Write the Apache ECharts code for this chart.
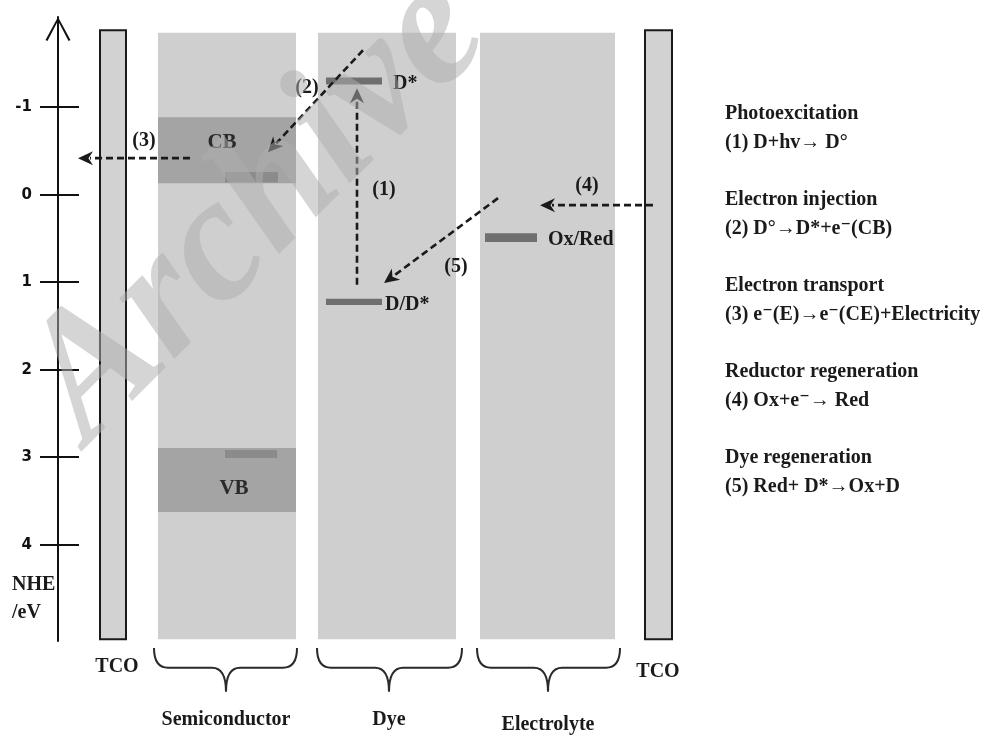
<!DOCTYPE html>
<html>
<head>
<meta charset="utf-8">
<script src="https://cdn.jsdelivr.net/npm/echarts@6/dist/echarts.min.js"></script>
<style>
  html, body { margin: 0; padding: 0; background: #fff; }
  #chart { width: 1001px; height: 735px; }
</style>
</head>
<body>
<div id="chart"></div>
<script>
// energy axis (NHE / eV), drawn top = negative
const tickValues = [-1, 0, 1, 2, 3, 4]

// cell layers: x in position units from the energy axis
const layerNames = ['TCO', 'Semiconductor', 'Dye', 'Electrolyte', 'TCO']
const layerX0 = [42, 100, 260, 422, 587]
const layerX1 = [68, 238, 398, 557, 614]
const layerTop = [-1.88, -1.85, -1.85, -1.85, -1.88]
const layerBottom = [5.08, 5.08, 5.08, 5.08, 5.08]

// semiconductor bands
const bandNames = ['CB', 'VB']
const bandTop = [-0.885, 2.894]
const bandBottom = [-0.13, 3.625]
const bandCenterX = [164, 176]
const bandLabelY = [-0.59, 3.36]

// energy levels (thin bars)
const levelNames = ['', '', 'D*', 'D/D*', 'Ox/Red']
const levelX0 = [167, 167, 268, 268, 427]
const levelX1 = [220, 219, 324, 324, 479]
const levelTop = [-0.26, 2.917, -1.34, 1.19, 0.44]
const levelBottom = [-0.14, 3.008, -1.26, 1.26, 0.54]

// electron transfer steps
const stepNames = ['(1)', '(2)', '(3)', '(4)', '(5)']
const stepFromX = [299, 305, 132, 595, 440]
const stepFromY = [1.03, -1.65, -0.417, 0.12, 0.04]
const stepToX = [299, 210, 20, 482, 326]
const stepToY = [-1.215, -0.485, -0.417, 0.12, 1.01]
const stepLabelX = [326, 249, 86, 529, 398]
const stepLabelY = [-0.05, -1.215, -0.62, -0.1, 0.82]

// braces under the layers
const braceNames = ['Semiconductor', 'Dye', 'Electrolyte']
const braceX0 = [96, 259, 419]
const braceX1 = [239, 404, 562]
const braceTip = [168, 331, 490]

const noteTitles = ['Photoexcitation', 'Electron injection', 'Electron transport', 'Reductor regeneration', 'Dye regeneration']
const noteEquations = [
  '(1) D+hv\u2192 D\u00b0',
  '(2) D\u00b0\u2192D*+e\u207b(CB)',
  '(3) e\u207b(E)\u2192e\u207b(CE)+Electricity',
  '(4) Ox+e\u207b\u2192 Red',
  '(5) Red+ D*\u2192Ox+D'
]

const serif = '"Liberation Serif", "DejaVu Serif", serif'
const chart = echarts.init(document.getElementById('chart'))

function rectSeries(x0, x1, y0, y1, style, z) {
  return {
    type: 'custom',
    z: z,
    data: x0.map((x, i) => [x, x1[i], y0[i], y1[i]]),
    renderItem: (params, api) => {
      const a = api.coord([api.value(0), api.value(2)])
      const b = api.coord([api.value(1), api.value(3)])
      return {
        type: 'rect',
        shape: { x: a[0], y: a[1], width: b[0] - a[0], height: b[1] - a[1] },
        style: style
      }
    }
  }
}

function textSeries(xs, ys, texts, style, z) {
  return {
    type: 'custom',
    z: z,
    data: xs.map((x, i) => [x, ys[i]]),
    renderItem: (params, api) => {
      const p = api.coord([api.value(0), api.value(1)])
      return {
        type: 'text',
        x: p[0],
        y: p[1],
        style: Object.assign({ text: texts[params.dataIndex] }, style)
      }
    }
  }
}

// labels gathered from the arrays above
const levelLabelIdx = [2, 3, 4]
const levelLabelGap = [11, 3, 11]
const bottomLabelX = [59, ...braceTip, 600]
const bottomLabelY = [5.40, 6.0, 6.0, 6.06, 5.45]
const bottomLabelText = [layerNames[0], ...braceNames, layerNames[4]]

const labelFont = 'bold 20px ' + serif

const options = {
  animation: false,
  grid: { left: 58, right: 0, top: 17, bottom: 94 },
  xAxis: { type: 'value', min: 0, max: 943, show: false },
  yAxis: [
    {
      type: 'value',
      inverse: true,
      min: -2.03,
      max: 5.1,
      position: 'left',
      splitLine: { show: false },
      axisLine: {
        show: true,
        lineStyle: { color: '#111', width: 2 },
        symbol: ['none', 'path://M0,24 L13,0 L26,24 L24,25 L13,4 L2,25 Z'],
        symbolSize: [27, 24],
        symbolOffset: [0, -12]
      },
      axisTick: { show: true, length: 18, customValues: tickValues, lineStyle: { color: '#111', width: 2 } },
      axisLabel: {
        customValues: tickValues,
        margin: 26,
        color: '#111',
        fontWeight: 'bold',
        fontSize: 15,
        fontFamily: '"DejaVu Sans", sans-serif'
      }
    },
    {
      type: 'value',
      inverse: true,
      min: -2.03,
      max: 5.1,
      position: 'left',
      offset: 0,
      splitLine: { show: false },
      axisLine: { show: false },
      axisLabel: { show: false },
      axisTick: { show: true, inside: true, length: 21, customValues: tickValues, lineStyle: { color: '#111', width: 2 } }
    }
  ],
  series: [
    rectSeries(layerX0.slice(1, 4), layerX1.slice(1, 4), layerTop.slice(1, 4), layerBottom.slice(1, 4),
      { fill: '#cfcfcf' }, 1),
    rectSeries([layerX0[0], layerX0[4]], [layerX1[0], layerX1[4]], [layerTop[0], layerTop[4]], [layerBottom[0], layerBottom[4]],
      { fill: '#d2d2d2', stroke: '#1a1a1a', lineWidth: 2 }, 1),
    rectSeries([layerX0[1], layerX0[1]], [layerX1[1], layerX1[1]], bandTop, bandBottom, { fill: '#a4a4a4' }, 2),
    rectSeries(levelX0.slice(0, 2), levelX1.slice(0, 2), levelTop.slice(0, 2), levelBottom.slice(0, 2), { fill: '#8b8b8b' }, 3),
    rectSeries(levelX0.slice(2), levelX1.slice(2), levelTop.slice(2), levelBottom.slice(2), { fill: '#6f6f6f' }, 3),
    // arrows
    {
      type: 'custom',
      z: 5,
      data: stepFromX.map((x, i) => [x, stepFromY[i], stepToX[i], stepToY[i]]),
      renderItem: (params, api) => {
        const a = api.coord([api.value(0), api.value(1)])
        const b = api.coord([api.value(2), api.value(3)])
        const dx = b[0] - a[0]
        const dy = b[1] - a[1]
        const len = Math.sqrt(dx * dx + dy * dy)
        const ux = dx / len
        const uy = dy / len
        const hl = 15
        const hw = 7
        const base = [b[0] - ux * hl, b[1] - uy * hl]
        return {
          type: 'group',
          children: [
            {
              type: 'line',
              shape: { x1: a[0], y1: a[1], x2: base[0] + ux * 3, y2: base[1] + uy * 3 },
              style: { stroke: '#1a1a1a', lineWidth: 2.6, lineDash: [7, 4] }
            },
            {
              type: 'polygon',
              shape: {
                points: [
                  b,
                  [base[0] - uy * hw, base[1] + ux * hw],
                  [b[0] - ux * hl * 0.7, b[1] - uy * hl * 0.7],
                  [base[0] + uy * hw, base[1] - ux * hw]
                ]
              },
              style: { fill: '#1a1a1a' }
            }
          ]
        }
      }
    },
    // braces
    {
      type: 'custom',
      z: 5,
      data: braceX0.map((x, i) => [x, braceX1[i], braceTip[i]]),
      renderItem: (params, api) => {
        const p0 = api.coord([api.value(0), 5.18])
        const m0 = api.coord([api.value(0), 5.405])
        const p1 = api.coord([api.value(1), 5.18])
        const m1 = api.coord([api.value(1), 5.405])
        const t = api.coord([api.value(2), 5.68])
        const r = 14
        const ym = m0[1]
        const path = 'M' + p0[0] + ',' + p0[1] +
          ' Q' + m0[0] + ',' + ym + ' ' + (m0[0] + r) + ',' + ym +
          ' L' + (t[0] - r) + ',' + ym +
          ' Q' + t[0] + ',' + ym + ' ' + t[0] + ',' + t[1] +
          ' Q' + t[0] + ',' + ym + ' ' + (t[0] + r) + ',' + ym +
          ' L' + (m1[0] - r) + ',' + ym +
          ' Q' + m1[0] + ',' + ym + ' ' + p1[0] + ',' + p1[1]
        return {
          type: 'path',
          shape: { pathData: path },
          style: { stroke: '#2a2a2a', lineWidth: 2, fill: null }
        }
      }
    },
    textSeries(stepLabelX, stepLabelY, stepNames,
      { fill: '#1a1a1a', font: labelFont, align: 'center', verticalAlign: 'middle' }, 6),
    textSeries(bandCenterX, bandLabelY, bandNames,
      { fill: '#2a2a2a', font: 'bold 21px ' + serif, align: 'center', verticalAlign: 'middle' }, 6),
    textSeries(levelLabelIdx.map((i, k) => levelX1[i] + levelLabelGap[k]), levelLabelIdx.map(i => (levelTop[i] + levelBottom[i]) / 2 + 0.03),
      levelLabelIdx.map(i => levelNames[i]),
      { fill: '#1a1a1a', font: labelFont, align: 'left', verticalAlign: 'middle' }, 6),
    textSeries(bottomLabelX, bottomLabelY, bottomLabelText,
      { fill: '#1a1a1a', font: labelFont, align: 'center', verticalAlign: 'middle' }, 6),
    textSeries([-46, -46], [4.46, 4.78], ['NHE', '/eV'],
      { fill: '#1a1a1a', font: labelFont, align: 'left', verticalAlign: 'middle' }, 6)
  ],
  graphic: [
    ...noteTitles.map((title, i) => ({
      type: 'text',
      left: 725,
      top: 99 + i * 86,
      style: {
        text: title + '\n' + noteEquations[i],
        font: 'bold 20px ' + serif,
        lineHeight: 29,
        fill: '#1a1a1a'
      }
    })),
    {
      type: 'text',
      x: 258,
      y: 210,
      rotation: Math.PI / 4,
      z: 100,
      style: {
        text: 'Archive',
        font: 'italic bold 178px ' + serif,
        fill: 'rgba(174, 174, 174, 0.52)',
        align: 'center',
        verticalAlign: 'middle'
      }
    }
  ]
}

chart.setOption(options)
</script>
</body>
</html>
